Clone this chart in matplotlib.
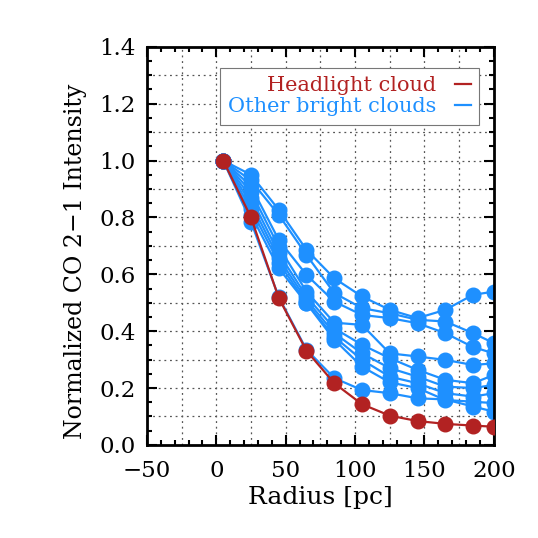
import numpy as np
import matplotlib
matplotlib.use("Agg")
import matplotlib.pyplot as plt
from matplotlib.ticker import MultipleLocator, FormatStrFormatter

# radial bins (pc)
radius = [5, 25, 45, 65, 85, 105, 125, 145, 165, 185, 200]

# headlight cloud profile
headlight = [1.0, 0.80, 0.517, 0.331, 0.217, 0.143, 0.103, 0.084, 0.074, 0.068, 0.064]

# other bright clouds
other_clouds = [
    [1.0, 0.95, 0.827, 0.686, 0.586, 0.522, 0.475, 0.446, 0.475, 0.528, 0.539],
    [1.0, 0.93, 0.809, 0.668, 0.534, 0.481, 0.463, 0.440, 0.434, 0.393, 0.358],
    [1.0, 0.91, 0.721, 0.598, 0.504, 0.457, 0.446, 0.428, 0.393, 0.344, 0.322],
    [1.0, 0.89, 0.697, 0.539, 0.430, 0.422, 0.322, 0.311, 0.299, 0.281, 0.287],
    [1.0, 0.87, 0.674, 0.522, 0.410, 0.352, 0.305, 0.264, 0.229, 0.217, 0.246],
    [1.0, 0.85, 0.656, 0.510, 0.393, 0.322, 0.270, 0.240, 0.205, 0.200, 0.211],
    [1.0, 0.83, 0.640, 0.500, 0.380, 0.299, 0.240, 0.217, 0.182, 0.170, 0.182],
    [1.0, 0.81, 0.621, 0.498, 0.370, 0.275, 0.220, 0.200, 0.158, 0.152, 0.147],
    [1.0, 0.785, 0.520, 0.335, 0.235, 0.193, 0.182, 0.164, 0.160, 0.135, 0.117],
]

red = "#B22222"
blue = "#1E90FF"

plt.rcParams['font.family'] = ['DejaVu Serif']

fig = plt.figure(figsize=(5.38, 5.38), dpi=100)
ax = fig.add_axes([0.273, 0.173, 0.645, 0.740])

# dotted grid
for gx in np.arange(-25, 200, 25):
    ax.axvline(gx, color="#555555", ls=(0, (1.5, 3)), lw=0.9, zorder=0)
for gy in np.arange(0.1, 1.4, 0.1):
    ax.axhline(gy, color="#555555", ls=(0, (1.5, 3)), lw=0.9, zorder=0)

for prof in other_clouds:
    ax.plot(radius, prof, color=blue, lw=1.6, marker="o", ms=10.5, mec=blue, zorder=2)
ax.plot(radius, headlight, color=red, lw=1.6, marker="o", ms=10.5, mec=red, zorder=3)

ax.set_xlim(-50, 200)
ax.set_ylim(0, 1.4)

ax.xaxis.set_major_locator(MultipleLocator(50))
ax.xaxis.set_minor_locator(MultipleLocator(10))
ax.yaxis.set_major_locator(MultipleLocator(0.2))
ax.yaxis.set_minor_locator(MultipleLocator(0.05))
ax.yaxis.set_major_formatter(FormatStrFormatter("%.1f"))

ax.tick_params(which="both", direction="in", top=True, right=True, width=1.5)
ax.tick_params(which="major", length=7, labelsize=16.5)
ax.tick_params(axis="x", which="major", pad=11)
ax.tick_params(axis="y", which="major", pad=8)
ax.tick_params(which="minor", length=3.5)
for s in ax.spines.values():
    s.set_linewidth(2)

ax.set_xlabel("Radius [pc]", fontsize=18, labelpad=3)
ax.set_ylabel("Normalized CO 2\u22121 Intensity", fontsize=17)
ax.yaxis.set_label_coords(-0.172, 0.46)

h1, = ax.plot([], [], color=red, lw=1.6)
h2, = ax.plot([], [], color=blue, lw=1.6)
leg = ax.legend([h1, h2], ["Headlight cloud", "Other bright clouds"],
                loc="upper right", bbox_to_anchor=(0.958, 0.947), borderaxespad=0,
                markerfirst=False, labelcolor="linecolor", fontsize=15,
                handlelength=0.75, handletextpad=0.9, fancybox=False,
                framealpha=1, edgecolor="#777777", borderpad=0.4, labelspacing=0.1)
leg.get_frame().set_linewidth(0.8)

fig.savefig("out.png", dpi=100)
